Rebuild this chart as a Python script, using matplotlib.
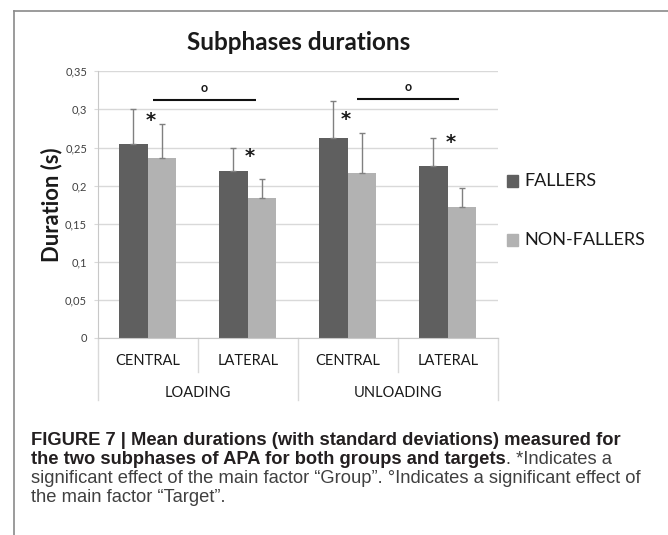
import matplotlib
matplotlib.use('Agg')
import matplotlib.pyplot as plt
import matplotlib.transforms as mtransforms
from matplotlib.lines import Line2D
from matplotlib.patches import Rectangle
import numpy as np

# data
categories = ['CENTRAL', 'LATERAL', 'CENTRAL', 'LATERAL']
groups = ['LOADING', 'UNLOADING']
fallers = [0.254, 0.219, 0.263, 0.226]
fallers_sd = [0.046, 0.031, 0.048, 0.036]
non_fallers = [0.236, 0.1835, 0.217, 0.172]
non_fallers_sd = [0.045, 0.0255, 0.052, 0.025]
series_names = ['FALLERS', 'NON-FALLERS']

# significance marks: "*" group effect, "o" target effect
star_x = [0.03, 1.016, 1.983, 3.03]
star_y = [0.2857, 0.2385, 0.287, 0.257]
target_lines = [(0.05, 1.08, 0.312), (2.09, 3.116, 0.3136)]
target_marks = [(0.563, 0.328), (2.6, 0.329)]

caption = [
    [('FIGURE 7 | Mean durations (with standard deviations) measured for', True)],
    [('the two subphases of APA for both groups and targets', True),
     ('. *Indicates a', False)],
    [('significant effect of the main factor \u201cGroup\u201d. \u00b0Indicates a significant effect of', False)],
    [('the main factor \u201cTarget\u201d.', False)],
]

W, H = 668, 535
dark = '#5f5f5f'
light = '#b2b2b2'
grid_c = '#d9d9d9'
txt_c = '#1a1a1a'

plt.rcParams['font.family'] = ['Lato', 'DejaVu Sans']

fig = plt.figure(figsize=(W / 100, H / 100), dpi=100)


def fy(y):
    return 1 - y / H


ax = fig.add_axes([97.7 / W, fy(338), 400 / W, (338 - 71.3) / H])

x = np.arange(len(categories))
w = 1 / 3.5
zeros = np.zeros(len(x))
err_kw = dict(ecolor='#808080', elinewidth=1, capsize=2, capthick=1)
ax.bar(x - w / 2, fallers, w, color=dark, yerr=[zeros, fallers_sd], error_kw=err_kw, zorder=2)
ax.bar(x + w / 2, non_fallers, w, color=light, yerr=[zeros, non_fallers_sd], error_kw=err_kw, zorder=2)

ax.set_xlim(-0.5, 3.5)
ax.set_ylim(0, 0.35)
yt = np.arange(0, 0.351, 0.05)
ax.set_yticks(yt)
ax.set_yticklabels([f'{v:.2f}'.rstrip('0').rstrip('.').replace('.', ',') for v in yt],
                   fontsize=8, color='#404040')
ax.set_xticks([])
ax.tick_params(axis='y', length=2.7, color=grid_c, pad=5)
ax.yaxis.grid(True, color=grid_c, lw=1)
ax.set_axisbelow(True)
for s in ['top', 'right']:
    ax.spines[s].set_visible(False)
ax.spines['left'].set_color('#c8c8c8')
ax.spines['bottom'].set_color('#c8c8c8')

# significance annotations
for xi, yi in zip(star_x, star_y):
    ax.text(xi, yi, '*', ha='center', va='center', fontsize=14, fontweight='bold',
            color=txt_c, family='DejaVu Sans')
for x0, x1, yl in target_lines:
    ax.plot([x0, x1], [yl, yl], color='#111111', lw=1.5, solid_capstyle='butt', clip_on=False)
for xm, ym in target_marks:
    ax.text(xm, ym, 'o', ha='center', va='center', fontsize=9, fontweight='bold', color=txt_c)

# two-level category axis
trans = mtransforms.blended_transform_factory(ax.transData, fig.transFigure)
for i, c in enumerate(categories):
    ax.text(i, fy(361), c, transform=trans, ha='center', va='center', fontsize=10.5, color=txt_c)
for j, g in enumerate(groups):
    ax.text(2 * j + 0.5, fy(393), g, transform=trans, ha='center', va='center',
            fontsize=10.5, color=txt_c)
for xs in [0.5, 2.5]:
    ax.plot([xs, xs], [fy(338), fy(371.7)], transform=trans, color=grid_c, lw=1, clip_on=False)
for xs in [-0.5, 1.5, 3.5]:
    ax.plot([xs, xs], [fy(338), fy(400)], transform=trans, color=grid_c, lw=1, clip_on=False)

# legend
for name, col, yc in zip(series_names, [dark, light], [181, 240]):
    fig.patches.append(Rectangle((506.7 / W, fy(yc + 5.7)), 11.3 / W, 11.3 / H,
                                 transform=fig.transFigure, color=col))
    fig.text(524 / W, fy(yc), name, ha='left', va='center', fontsize=13, color=txt_c)

fig.text(299 / W, fy(43), 'Subphases durations', ha='center', va='center',
         fontsize=17.5, fontweight='bold', color=txt_c)
fig.text(52 / W, fy(205), 'Duration (s)', ha='center', va='center', rotation=90,
         fontsize=15.8, fontweight='bold', color=txt_c)

# frame
fig.add_artist(Line2D([14 / W, 1], [fy(11), fy(11)], color='#8a8a8a', lw=1.2))
fig.add_artist(Line2D([14 / W, 14 / W], [fy(11), 0], color='#8a8a8a', lw=1.2))

# caption, size chosen so the longest line fits the frame
cap_family = ['Liberation Sans Narrow', 'Liberation Sans']
r = fig.canvas.get_renderer()
probe = fig.text(0, 0, caption[2][0][0], fontsize=12, family=cap_family)
cap_size = 12 * 612 / probe.get_window_extent(renderer=r).width
probe.remove()

for k, line in enumerate(caption):
    xc = 31
    for text, bold in line:
        t = fig.text(xc / W, fy(440.7 + 19 * k), text, ha='left', va='center',
                     fontsize=cap_size, fontweight='bold' if bold else 'normal',
                     color='#231f20' if bold else '#404040', family=cap_family)
        xc += t.get_window_extent(renderer=r).width

fig.savefig('out.png', dpi=100)
